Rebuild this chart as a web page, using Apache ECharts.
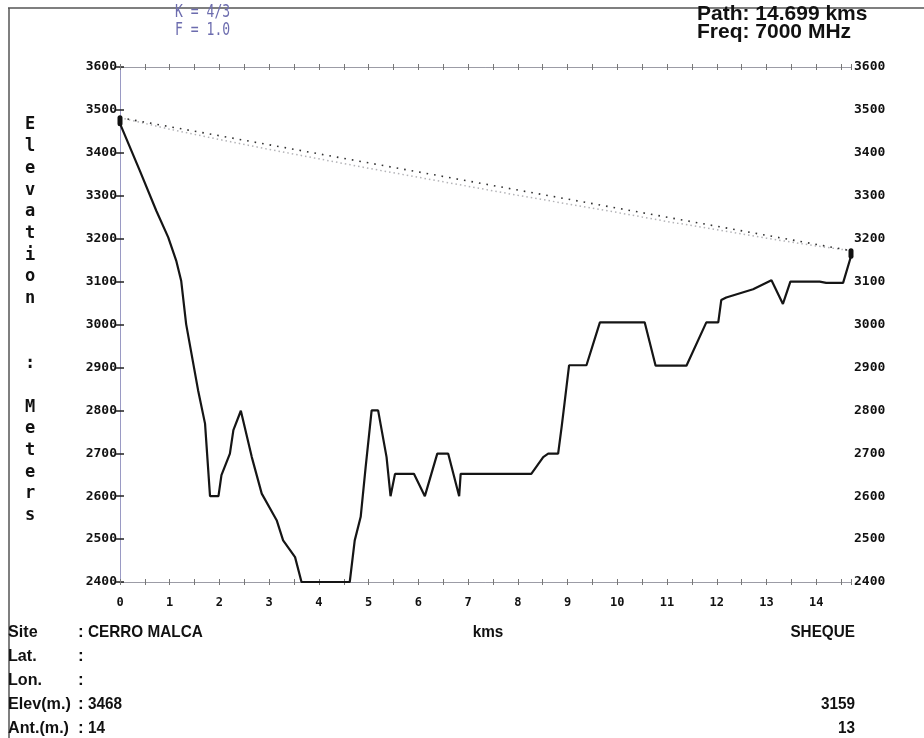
<!DOCTYPE html>
<html>
<head>
<meta charset="utf-8">
<script src="https://cdn.jsdelivr.net/npm/echarts@6/dist/echarts.min.js"></script>
<style>
html,body{margin:0;padding:0;background:#fff;}
#chart{width:924px;height:738px;}
</style>
</head>
<body>
<div id="chart"></div>
<script>
// ---- data ----
const distKm = [0, 0.4, 0.73, 0.97, 1.13, 1.23, 1.33, 1.57, 1.71, 1.81, 1.98, 2.04, 2.21, 2.28, 2.43, 2.65, 2.85, 3.15, 3.28, 3.52, 3.65, 4.62, 4.72, 4.84, 4.94, 5.06, 5.19, 5.36, 5.44, 5.53, 5.91, 6.13, 6.38, 6.60, 6.82, 6.85, 8.27, 8.51, 8.61, 8.81, 8.88, 8.94, 9.03, 9.38, 9.65, 10.55, 10.77, 11.39, 11.79, 12.03, 12.09, 12.19, 12.73, 13.10, 13.33, 13.48, 14.07, 14.20, 14.54, 14.699];
const elevM  = [3468, 3358, 3265, 3203, 3149, 3102, 3001, 2847, 2769, 2600, 2600, 2649, 2699, 2754, 2799, 2691, 2606, 2544, 2497, 2458, 2400, 2400, 2497, 2552, 2668, 2800, 2800, 2691, 2600, 2652, 2652, 2600, 2699, 2699, 2600, 2652, 2652, 2691, 2699, 2699, 2761, 2818, 2905, 2905, 3005, 3005, 2904, 2904, 3005, 3005, 3057, 3063, 3082, 3103, 3048, 3100, 3100, 3097, 3097, 3159];
const losKm = [0, 14.699];
const losM  = [3482, 3172];
const fresKm = [0, 1, 2, 3, 4, 5, 6, 7, 8, 9, 10, 11, 12, 13, 14, 14.699];
const fresM  = [3482, 3455, 3431, 3408, 3386, 3364, 3343, 3322, 3301, 3281, 3261, 3240, 3221, 3201, 3183, 3172];
const antAKm = [0, 0];
const antAM  = [3468, 3482];
const antBKm = [14.699, 14.699];
const antBM  = [3159, 3172];
const kText = 'K = 4/3';
const fText = 'F = 1.0';
const pathText = 'Path: 14.699 kms';
const freqText = 'Freq: 7000 MHz';
const yTitle = ['E','l','e','v','a','t','i','o','n','','',':','','M','e','t','e','r','s'];
const infoLabels = ['Site', 'Lat.', 'Lon.', 'Elev(m.)', 'Ant.(m.)'];
const siteAValues = ['CERRO MALCA', '', '', '3468', '14'];
const siteBValues = ['SHEQUE', '', '', '3159', '13'];
const xAxisName = 'kms';

const zip = (a, b) => a.map((v, i) => [v, b[i]]);
const chart = echarts.init(document.getElementById('chart'), null, {renderer: 'canvas'});

const labelFont = {fontFamily: 'DejaVu Sans Mono', fontWeight: 'bold', fontSize: 13, color: '#111'};
const gridBox = {left: 120, right: 73, top: 67, bottom: 156};

function tickAxisX(grid, pos, inside) {
  return {type: 'value', gridIndex: grid, position: pos, min: 0, max: 14.699, interval: 0.5,
    axisLine: {show: true, lineStyle: {color: '#9c9ca6', width: 1}},
    axisTick: {show: true, inside: inside, length: 3, lineStyle: {color: '#777', width: 1}},
    axisLabel: {show: false}, splitLine: {show: false}};
}
function yAx(grid, pos, showLabel, inside) {
  return {type: 'value', gridIndex: grid, position: pos, min: 2400, max: 3600, interval: 100,
    axisLine: {show: true, lineStyle: {color: '#9a9ac4', width: 1}},
    axisTick: {show: showLabel, inside: inside, length: 4, lineStyle: {color: '#222', width: 1.5}},
    axisLabel: Object.assign({show: showLabel, margin: 3, formatter: v => String(v)}, labelFont),
    splitLine: {show: false}};
}

const graphics = [];
// frame
graphics.push({type: 'line', shape: {x1: 8, y1: 8, x2: 924, y2: 8}, style: {stroke: '#555', lineWidth: 1.5}});
graphics.push({type: 'line', shape: {x1: 9, y1: 8, x2: 9, y2: 738}, style: {stroke: '#555', lineWidth: 1.5}});
function txt(text, x, y, o) {
  o = o || {};
  graphics.push({type: 'text', x: x, y: y, scaleX: o.sx || 1,
    style: {text: text, fill: o.color || '#111',
      font: (o.weight || 'bold') + ' ' + (o.size || 17) + 'px ' + (o.family || '"Liberation Sans"'),
      textAlign: o.align || 'left', textVerticalAlign: 'middle'}});
}
txt(kText, 175, 13, {color: '#6c6cae', weight: 'normal', size: 17, family: '"DejaVu Sans Mono"', sx: 0.77});
txt(fText, 175, 31, {color: '#6c6cae', weight: 'normal', size: 17, family: '"DejaVu Sans Mono"', sx: 0.77});
txt(pathText, 697, 14, {size: 21});
txt(freqText, 697, 32, {size: 21});
// vertical y title
yTitle.forEach((c, i) => { if (c) txt(c, 30, 125 + i * 21.7, {size: 17, family: '"DejaVu Sans Mono"', align: 'center'}); });
// info block
const rowY = [632, 656, 680, 704, 728];
infoLabels.forEach((l, i) => {
  txt(l, 8, rowY[i], {size: 17, sx: 0.95});
  txt(':', 78, rowY[i], {size: 17});
  if (siteAValues[i]) txt(siteAValues[i], 88, rowY[i], {size: 17, sx: 0.9});
  if (siteBValues[i]) txt(siteBValues[i], 855, rowY[i], {size: 17, sx: 0.9, align: 'right'});
});
txt(xAxisName, 488, 632, {size: 17, sx: 0.9, align: 'center'});

const option = {
  animation: false,
  backgroundColor: '#ffffff',
  grid: [Object.assign({}, gridBox), Object.assign({}, gridBox)],
  xAxis: [
    Object.assign(tickAxisX(0, 'bottom', false), {
      axisLabel: Object.assign({show: true, margin: 15, formatter: v => (Math.abs(v - Math.round(v)) < 1e-6 ? String(Math.round(v)) : '')}, labelFont, {fontSize: 12})
    }),
    tickAxisX(0, 'top', false),
    tickAxisX(1, 'bottom', true),
    tickAxisX(1, 'top', true)
  ],
  yAxis: [
    yAx(0, 'left', true, false),
    yAx(0, 'right', true, false),
    yAx(1, 'left', false, true),
    yAx(1, 'right', false, true)
  ],
  series: [
    {type: 'line', xAxisIndex: 0, yAxisIndex: 0, data: zip(fresKm, fresM), symbol: 'none',
      lineStyle: {color: '#b4b4b8', width: 1.5, type: [1.5, 3]}, z: 2},
    {type: 'line', xAxisIndex: 0, yAxisIndex: 0, data: zip(losKm, losM), symbol: 'none',
      lineStyle: {color: '#333', width: 1.6, type: [1.6, 6]}, z: 3},
    {type: 'line', xAxisIndex: 0, yAxisIndex: 0, data: zip(distKm, elevM), symbol: 'none',
      lineStyle: {color: '#151515', width: 2.2}, z: 4},
    {type: 'line', xAxisIndex: 0, yAxisIndex: 0, data: zip(antAKm, antAM), symbol: 'none',
      lineStyle: {color: '#111', width: 5, cap: 'round'}, z: 5},
    {type: 'line', xAxisIndex: 0, yAxisIndex: 0, data: zip(antBKm, antBM), symbol: 'none',
      lineStyle: {color: '#111', width: 5, cap: 'round'}, z: 5}
  ],
  graphic: graphics
};
chart.setOption(option);
</script>
</body>
</html>
